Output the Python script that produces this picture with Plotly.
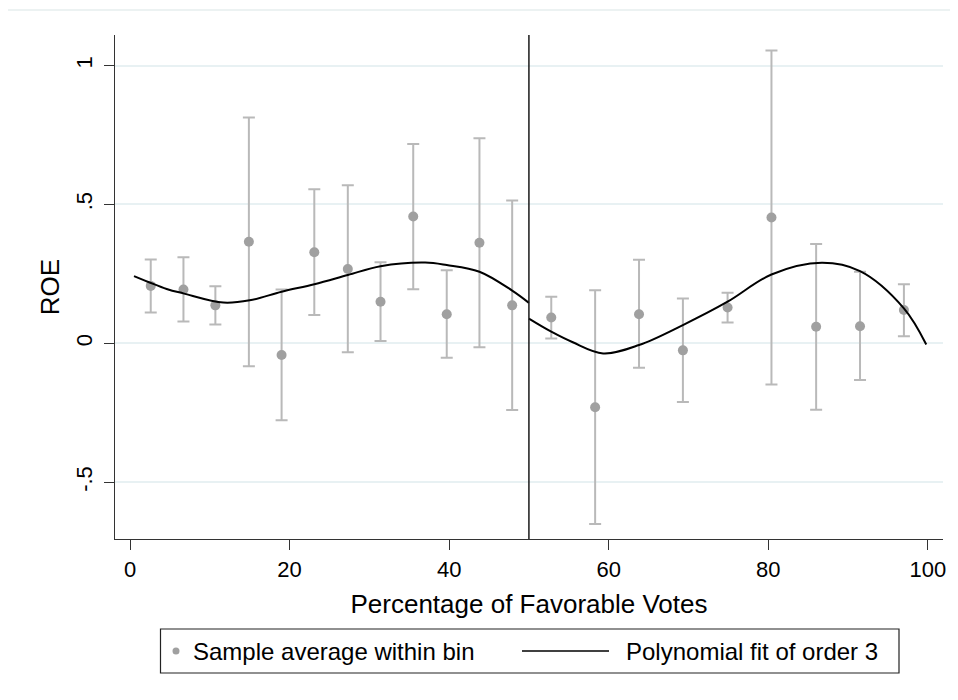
import plotly.graph_objects as go

# ---- data ----
bin_x = [2.6, 6.7, 10.7, 14.9, 19.0, 23.1, 27.3, 31.4, 35.5, 39.7, 43.8, 47.9,
         52.8, 58.3, 63.8, 69.3, 74.9, 80.4, 86.0, 91.5, 97.0]
bin_mean = [0.207, 0.194, 0.137, 0.366, -0.042, 0.328, 0.268, 0.150, 0.457, 0.105, 0.362, 0.137,
            0.093, -0.230, 0.105, -0.025, 0.129, 0.453, 0.060, 0.062, 0.120]
ci_upper = [0.302, 0.310, 0.206, 0.813, 0.194, 0.555, 0.569, 0.292, 0.718, 0.263, 0.738, 0.514,
            0.168, 0.191, 0.301, 0.162, 0.182, 1.054, 0.358, 0.258, 0.213]
ci_lower = [0.111, 0.079, 0.068, -0.082, -0.277, 0.102, -0.032, 0.009, 0.195, -0.052, -0.014, -0.240,
            0.018, -0.650, -0.088, -0.211, 0.075, -0.148, -0.239, -0.132, 0.026]

fit_left_x = [0.5, 4.6, 6.7, 11.7, 15.0, 19.0, 23.1, 27.3, 31.4, 37.0, 39.7, 43.8, 47.9, 50.0]
fit_left_y = [0.242, 0.196, 0.180, 0.147, 0.155, 0.186, 0.213, 0.246, 0.278, 0.291, 0.282, 0.258, 0.190, 0.146]
fit_right_x = [50.0, 52.8, 55.5, 59.3, 63.8, 69.3, 74.9, 80.4, 86.7, 91.5, 97.0, 99.8]
fit_right_y = [0.089, 0.042, 0.004, -0.036, -0.006, 0.066, 0.150, 0.248, 0.290, 0.260, 0.126, -0.004]

cutoff = 50
x_ticks = [0, 20, 40, 60, 80, 100]
y_ticks = [-0.5, 0, 0.5, 1]
y_ticktext = ["-.5", "0", ".5", "1"]
legend_labels = ["Sample average within bin", "Polynomial fit of order 3"]

FONT = "Liberation Sans, Arial, sans-serif"
DOT = "#a0a0a0"
BAR = "#b9b9b9"

err_plus = [u - m for u, m in zip(ci_upper, bin_mean)]
err_minus = [m - l for m, l in zip(bin_mean, ci_lower)]

fig = go.Figure()
fig.add_trace(go.Scatter(
    x=bin_x, y=bin_mean, mode="markers", name=legend_labels[0], showlegend=False,
    marker=dict(size=10, color=DOT),
    error_y=dict(type="data", symmetric=False, array=err_plus, arrayminus=err_minus,
                 color=BAR, thickness=2, width=6),
))
for fx, fy in [(fit_left_x, fit_left_y), (fit_right_x, fit_right_y)]:
    fig.add_trace(go.Scatter(x=fx, y=fy, mode="lines", name=legend_labels[1], showlegend=False,
                             line=dict(color="black", width=2, shape="spline", smoothing=1.0)))

# page body has an 8px margin: figure is drawn at (8, 8) in the window
OFF = 8
W, H = 958 - OFF, 700 - OFF
L, T = 115 - OFF, 35 - OFF
R = 15
B = H - (539 - OFF)
pw, ph = W - L - R, H - T - B
def px(x):
    return (x - OFF - L) / pw
def py(y):
    return (H - B - (y - OFF)) / ph

shapes = [
    # outer graph-region frame
    dict(type="rect", xref="paper", yref="paper", x0=px(5), x1=px(1000), y0=py(10), y1=py(760),
         line=dict(color="#e6eeee", width=1.5), layer="below"),
    # cutoff line
    dict(type="line", xref="x", yref="paper", x0=cutoff, x1=cutoff, y0=0, y1=1,
         line=dict(color="#1a1a1a", width=1.5)),
    # legend box
    dict(type="rect", xref="paper", yref="paper", x0=px(160.5), x1=px(899), y0=py(673), y1=py(629),
         line=dict(color="#222", width=1.2)),
    # legend dot
    dict(type="circle", xref="paper", yref="paper", xsizemode="pixel", ysizemode="pixel",
         xanchor=px(176), yanchor=py(651), x0=-3.5, x1=3.5, y0=-3.5, y1=3.5,
         fillcolor=DOT, line=dict(width=0)),
    # legend line
    dict(type="line", xref="paper", yref="paper", x0=px(522), x1=px(609), y0=py(651), y1=py(651),
         line=dict(color="black", width=1.5)),
]
annotations = [
    dict(text=legend_labels[0], xref="paper", yref="paper", x=px(191), y=py(651),
         xanchor="left", yanchor="middle", showarrow=False, font=dict(family=FONT, size=24, color="black")),
    dict(text=legend_labels[1], xref="paper", yref="paper", x=px(624), y=py(651),
         xanchor="left", yanchor="middle", showarrow=False, font=dict(family=FONT, size=24, color="black")),
]

fig.update_layout(
    width=W, height=H, margin=dict(l=L, r=R, t=T, b=B),
    paper_bgcolor="white", plot_bgcolor="white",
    font=dict(family=FONT, color="black"),
    showlegend=False, shapes=shapes, annotations=annotations,
    xaxis=dict(range=[-1.88, 101.9], tickvals=x_ticks, ticks="outside", ticklen=10, tickwidth=1,
               tickcolor="#333", showline=True, linecolor="#333", linewidth=1.2,
               showgrid=False, zeroline=False, tickfont=dict(size=22),
               title=dict(text="Percentage of Favorable Votes", font=dict(size=26), standoff=14)),
    yaxis=dict(range=[-0.704, 1.110], tickvals=y_ticks, ticktext=y_ticktext, tickangle=-90,
               ticks="outside", ticklen=10, tickwidth=1, tickcolor="#333",
               showline=True, linecolor="#333", linewidth=1.2, ticklabelstandoff=3,
               showgrid=True, gridcolor="#e8f1f3", gridwidth=1.5, zeroline=False,
               tickfont=dict(size=22),
               title=dict(text="ROE", font=dict(size=26), standoff=4)),
)

fig.write_html("out.html")
